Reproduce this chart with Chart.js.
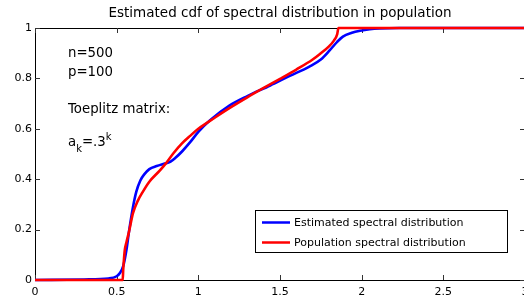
<!DOCTYPE html>
<html>
<head>
<meta charset="utf-8">
<script src="https://cdn.jsdelivr.net/npm/chart.js@4/dist/chart.umd.min.js"></script>
<style>
  html, body { margin: 0; padding: 0; background: #fff; overflow: hidden; width: 524px; height: 301px; }
  #wrap { position: relative; width: 540px; height: 301px; }
</style>
</head>
<body>
<div id="wrap"><canvas id="c" width="540" height="301"></canvas></div>
<script>
const titleText = 'Estimated cdf of spectral distribution in population';
const seriesNames = ['Estimated spectral distribution', 'Population spectral distribution'];
const xTicks = [0, 0.5, 1, 1.5, 2, 2.5, 3];
const xTickLabels = ['0', '0.5', '1', '1.5', '2', '2.5', '3'];
const yTicks = [0, 0.2, 0.4, 0.6, 0.8, 1];
const yTickLabels = ['0', '0.2', '0.4', '0.6', '0.8', '1'];
const notes = ['n=500', 'p=100', 'Toeplitz matrix:'];

const estX = [0, 0.3, 0.45, 0.5, 0.52, 0.54, 0.56, 0.575, 0.6, 0.62, 0.645, 0.67, 0.7, 0.745, 0.8, 0.83, 0.86, 0.9, 0.95, 1.0, 1.07, 1.19, 1.3, 1.44, 1.56, 1.68, 1.75, 1.805, 1.85, 1.885, 1.94, 1.99, 2.05, 2.11, 2.23, 3];
const estY = [0, 0.002, 0.006, 0.015, 0.028, 0.055, 0.12, 0.19, 0.29, 0.35, 0.395, 0.42, 0.44, 0.452, 0.463, 0.47, 0.485, 0.51, 0.547, 0.588, 0.633, 0.692, 0.73, 0.772, 0.81, 0.847, 0.875, 0.912, 0.945, 0.966, 0.981, 0.989, 0.995, 0.998, 1, 1];

const popX = [0, 0.537, 0.54, 0.545, 0.55, 0.56, 0.575, 0.6, 0.63, 0.66, 0.7, 0.765, 0.8, 0.85, 0.9, 0.95, 1.0, 1.1, 1.2, 1.3, 1.4, 1.5, 1.6, 1.7, 1.75, 1.8, 1.83, 1.85, 1.858, 3];
const popY = [0, 0, 0.04, 0.085, 0.12, 0.15, 0.19, 0.265, 0.315, 0.35, 0.39, 0.435, 0.462, 0.505, 0.542, 0.572, 0.6, 0.644, 0.686, 0.725, 0.762, 0.798, 0.835, 0.875, 0.9, 0.927, 0.95, 0.975, 1, 1];

const FONT = '"DejaVu Sans", sans-serif';

const framePlugin = {
  id: 'frame',
  beforeDatasetsDraw(chart) {
    const ctx = chart.ctx, a = chart.chartArea;
    const xs = chart.scales.x, ys = chart.scales.y;
    ctx.save();
    ctx.strokeStyle = '#000';
    ctx.lineWidth = 1;
    ctx.beginPath();
    ctx.rect(Math.round(a.left) + 0.5, Math.round(a.top) + 0.5, Math.round(a.right - a.left), Math.round(a.bottom - a.top));
    ctx.stroke();
    ctx.strokeStyle = '#333';
    ctx.beginPath();
    xTicks.forEach(v => {
      const px = Math.round(xs.getPixelForValue(v)) + 0.5;
      ctx.moveTo(px, a.bottom); ctx.lineTo(px, a.bottom - 5);
      ctx.moveTo(px, a.top); ctx.lineTo(px, a.top + 5);
    });
    yTicks.forEach(v => {
      const py = Math.round(ys.getPixelForValue(v)) + 0.5;
      ctx.moveTo(a.left, py); ctx.lineTo(a.left + 5, py);
      ctx.moveTo(a.right, py); ctx.lineTo(a.right - 5, py);
    });
    ctx.stroke();
    ctx.restore();
  },
  afterDraw(chart) {
    const ctx = chart.ctx, a = chart.chartArea;
    ctx.save();
    ctx.fillStyle = '#000';
    ctx.font = '13.5px ' + FONT;
    ctx.textAlign = 'center';
    ctx.textBaseline = 'alphabetic';
    ctx.fillText(titleText, (a.left + a.right) / 2, 17);
    ctx.textAlign = 'left';
    ctx.font = '13.3px ' + FONT;
    ctx.fillText(notes[0], 68, 57);
    ctx.fillText(notes[1], 68, 76);
    ctx.fillText(notes[2], 68, 113);
    let x = 68;
    ctx.fillText('a', x, 146); x += ctx.measureText('a').width;
    ctx.font = '10px ' + FONT;
    ctx.fillText('k', x, 152); x += ctx.measureText('k').width;
    ctx.font = '13.3px ' + FONT;
    ctx.fillText('=.3', x, 146); x += ctx.measureText('=.3').width;
    ctx.font = '10px ' + FONT;
    ctx.fillText('k', x, 140);
    const L = 255.5, T = 210.5, W = 252, H = 42;
    ctx.fillStyle = '#fff';
    ctx.fillRect(L, T, W, H);
    ctx.strokeStyle = '#000';
    ctx.lineWidth = 1;
    ctx.strokeRect(L, T, W, H);
    ctx.font = '11px ' + FONT;
    ctx.textBaseline = 'middle';
    const rows = [222.5, 242.5];
    const ds = chart.data.datasets;
    const byName = seriesNames.map(n => ds.find(d => d.label === n));
    byName.forEach((d, i) => {
      ctx.strokeStyle = d.borderColor;
      ctx.lineWidth = 2.5;
      ctx.beginPath();
      ctx.moveTo(262, rows[i]); ctx.lineTo(290, rows[i]);
      ctx.stroke();
      ctx.fillStyle = '#000';
      ctx.fillText(d.label, 294, rows[i] + 0.5);
    });
    ctx.restore();
  }
};

new Chart(document.getElementById('c'), {
  type: 'line',
  data: {
    datasets: [
      {
        label: seriesNames[1],
        data: popX.map((x, i) => ({ x: x, y: popY[i] })),
        borderColor: '#ff0000',
        borderWidth: 2.6,
        pointRadius: 0,
        cubicInterpolationMode: 'monotone',
        order: 0,
        clip: 4
      },
      {
        label: seriesNames[0],
        data: estX.map((x, i) => ({ x: x, y: estY[i] })),
        borderColor: '#0000ff',
        borderWidth: 2.6,
        pointRadius: 0,
        cubicInterpolationMode: 'monotone',
        order: 1,
        clip: 4
      }
    ]
  },
  options: {
    responsive: false,
    animation: false,
    devicePixelRatio: 1,
    layout: { padding: { top: 28, right: 15, left: 0, bottom: 0 } },
    plugins: { legend: { display: false }, tooltip: { enabled: false }, title: { display: false } },
    scales: {
      x: {
        type: 'linear', min: 0, max: 3,
        afterBuildTicks: s => { s.ticks = xTicks.map(v => ({ value: v })); },
        afterFit: s => { s.height = 21; },
        grid: { display: false, drawTicks: false },
        border: { display: false },
        ticks: {
          padding: 6, color: '#000', maxRotation: 0, autoSkip: false,
          font: { family: FONT, size: 11 },
          callback: (v, i) => xTickLabels[i]
        }
      },
      y: {
        type: 'linear', min: 0, max: 1,
        afterBuildTicks: s => { s.ticks = yTicks.map(v => ({ value: v })); },
        afterFit: s => { s.width = 35; },
        grid: { display: false, drawTicks: false },
        border: { display: false },
        ticks: {
          padding: 3, color: '#000', autoSkip: false,
          font: { family: FONT, size: 11 },
          callback: (v, i) => yTickLabels[i]
        }
      }
    }
  },
  plugins: [framePlugin]
});
</script>
</body>
</html>
